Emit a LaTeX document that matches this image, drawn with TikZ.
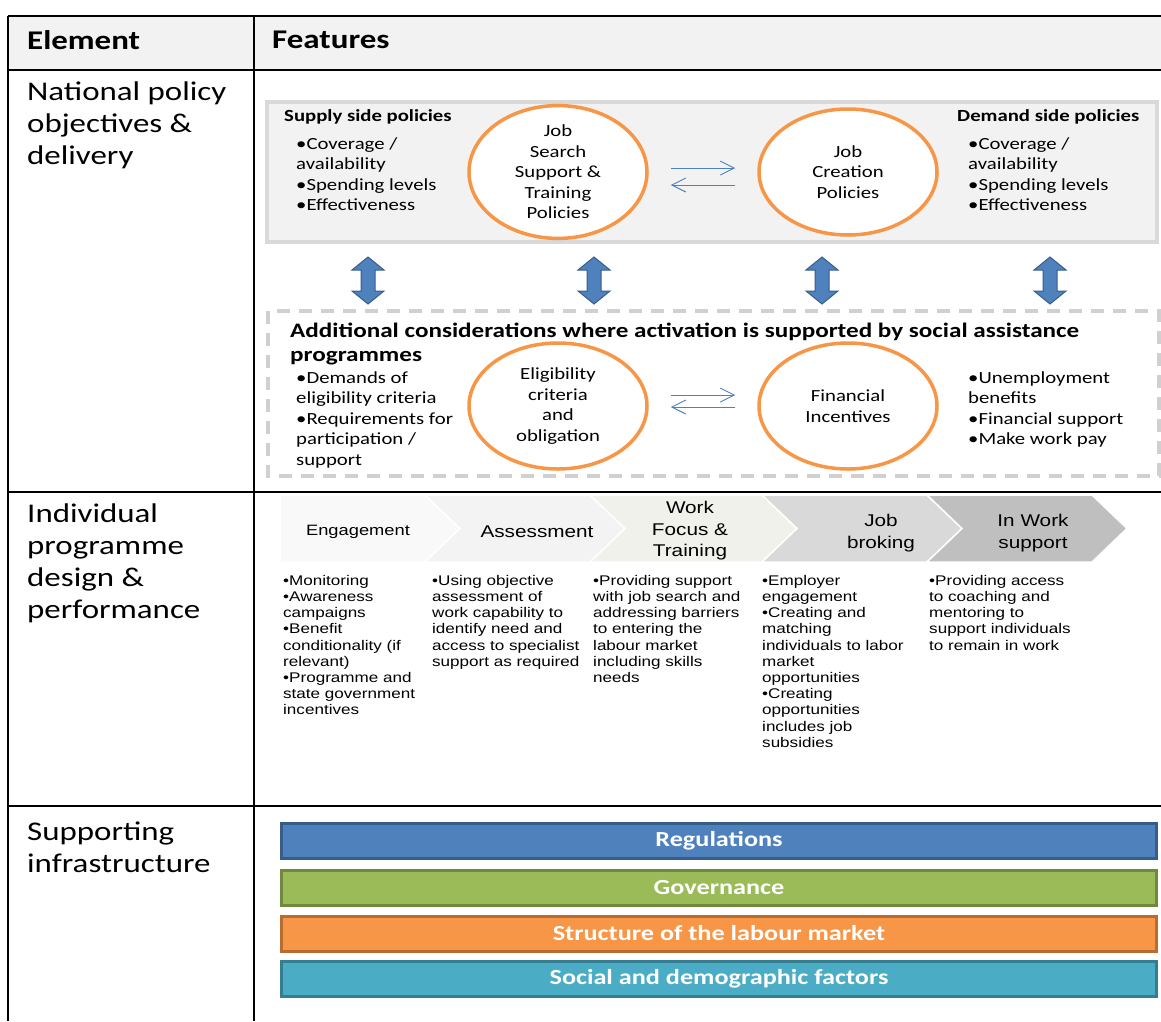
\documentclass[tikz,border=0pt]{standalone}
\usepackage{fontspec}
\setmainfont{Carlito}[FakeStretch=1.22]
\newfontfamily\arialf{Liberation Sans}[FakeStretch=1.22]
\usetikzlibrary{shapes.geometric, arrows.meta, positioning}

\definecolor{hdrgray}{HTML}{F2F2F2}
\definecolor{panelfill}{HTML}{F2F2F2}
\definecolor{panelline}{HTML}{D9D9D9}
\definecolor{dashline}{HTML}{D0D0D0}
\definecolor{ringorange}{HTML}{F79646}
\definecolor{swapblue}{HTML}{4F81BD}
\definecolor{blockdark}{HTML}{385D8A}
\definecolor{chevA}{HTML}{F9F9F9}
\definecolor{chevB}{HTML}{F3F3F3}
\definecolor{chevC}{HTML}{F1F1EB}
\definecolor{chevD}{HTML}{D9D9D9}
\definecolor{chevE}{HTML}{BFBFBF}
\definecolor{regblue}{HTML}{4F81BD}
\definecolor{regblueD}{HTML}{385D8A}
\definecolor{govgreen}{HTML}{9BBB59}
\definecolor{govgreenD}{HTML}{71893F}
\definecolor{strorange}{HTML}{F79646}
\definecolor{strorangeD}{HTML}{B66D31}
\definecolor{socteal}{HTML}{4BACC6}
\definecolor{soctealD}{HTML}{357D91}

\begin{document}
\begin{tikzpicture}[
    x=1pt, y=-1pt,
    tblline/.style={line width=1.2pt, black},
    hdr/.style={anchor=west, inner sep=0pt, font=\fontsize{27}{32}\selectfont\bfseries},
    eltext/.style={anchor=north west, inner sep=0pt, align=left, font=\fontsize{27}{32}\selectfont},
    plist/.style={anchor=north west, inner sep=0pt, align=left, font=\fontsize{17}{20.5}\selectfont},
    ring/.style={ellipse, draw=ringorange, line width=3.5pt, fill=white, minimum width=178pt, minimum height=126pt, inner sep=0pt, align=center, font=\fontsize{17}{20.5}\selectfont},
    swap/.style={-{Straight Barb[length=14pt, width=14pt]}, swapblue, line width=0.9pt},
    blockarrow/.style={draw=blockdark, fill=swapblue, line width=1pt, line join=miter},
    chev/.style={draw=white, line width=1.5pt},
    chevtext/.style={align=center, inner sep=0pt, font=\arialf\fontsize{17}{21.5}\selectfont},
    steplist/.style={anchor=north west, inner sep=0pt, align=left, font=\arialf\fontsize{14}{16.2}\selectfont},
    bar/.style={minimum width=875pt, minimum height=35pt, line width=3pt, inner sep=0pt, text=white, font=\fontsize{21.5}{22}\selectfont\bfseries}
]
    \useasboundingbox (0,0) rectangle (1161,1021);

    % table grid
    \fill[hdrgray] (8,16) rectangle (1161,70);
    \draw[tblline] (8,16) -- (1161,16);
    \draw[tblline] (8,70) -- (1161,70);
    \draw[tblline] (8,492) -- (1161,492);
    \draw[tblline] (8,806) -- (1161,806);
    \draw[tblline] (8,16) -- (8,1021);
    \draw[tblline] (254,16) -- (254,1021);

    \node[hdr] (elhead) at (27,40) {Element};
    \node[hdr] (fthead) at (272,40) {Features};

    % row 1
    \node[eltext] (natl) at (27,82) {National policy\\objectives \&\\delivery};

    \draw[panelline, fill=panelfill, line width=4pt] (267,102) rectangle (1157,242);
    \node[plist, font=\fontsize{17}{20.5}\selectfont\bfseries] (suptitle) at (284,109) {Supply side policies};
    \node[plist] (suplist) at (296,137) {\textbullet Coverage /\\availability\\\textbullet Spending levels\\\textbullet Effectiveness};
    \node[plist, font=\fontsize{17}{20.5}\selectfont\bfseries] (demtitle) at (957,109) {Demand side policies};
    \node[plist] (demlist) at (968,137) {\textbullet Coverage /\\availability\\\textbullet Spending levels\\\textbullet Effectiveness};

    \node[ring] (jss) at (558,172) {Job\\Search\\Support \&\\Training\\Policies};
    \node[ring] (jcp) at (848,172) {Job\\Creation\\Policies};
    \draw[swap] ([xshift=22pt, yshift=4pt]jss.east) -- ([xshift=-22pt, yshift=4pt]jcp.west);
    \draw[swap] ([xshift=-22pt, yshift=-13pt]jcp.west) -- ([xshift=22pt, yshift=-13pt]jss.east);

    % links between the two panels
    \foreach \ax in {368,594,822,1050}
        \draw[blockarrow] (\ax,257) -- ++(16,13) -- ++(-9,0) -- ++(0,21) -- ++(9,0)
            -- (\ax,304) -- ++(-16,-13) -- ++(9,0) -- ++(0,-21) -- ++(-9,0) -- cycle;

    \draw[dashline, line width=4pt, dash pattern=on 13pt off 9pt] (268,311) rectangle (1159,476);
    \node[plist, font=\fontsize{20.6}{24}\selectfont\bfseries] (addtitle) at (290,323) {Additional considerations where activation is supported by social assistance\\programmes};
    \node[plist] (elglist) at (296,371) {\textbullet Demands of\\eligibility criteria\\\textbullet Requirements for\\participation /\\support};
    \node[plist] (finlist) at (968,371) {\textbullet Unemployment\\benefits\\\textbullet Financial support\\\textbullet Make work pay};

    \node[ring] (elig) at (558,406) {Eligibility\\criteria\\and\\obligation};
    \node[ring] (fin) at (848,406) {Financial\\Incentives};
    \draw[swap] ([xshift=22pt, yshift=11pt]elig.east) -- ([xshift=-22pt, yshift=11pt]fin.west);
    \draw[swap] ([xshift=-22pt, yshift=-1pt]fin.west) -- ([xshift=22pt, yshift=-1pt]elig.east);

    % row 2
    \node[eltext] (indiv) at (27,504) {Individual\\programme\\design \&\\performance};

    \filldraw[chev, fill=chevA] (280,495) -- (425,495) -- (460,528.5) -- (425,562) -- (280,562) -- cycle;
    \foreach \cx/\cw/\cc in {425/165/chevB, 590/172/chevC, 762/165/chevD, 927/165/chevE}
        \filldraw[chev, fill=\cc] (\cx,495) -- ++(\cw,0) -- ++(35,33.5) -- ++(-35,33.5)
            -- ++(-\cw,0) -- ++(35,-33.5) -- cycle;

    \node[chevtext, font=\arialf\fontsize{15}{18}\selectfont] (engage) at (358,532) {Engagement};
    \node[chevtext] (assess) at (537,532) {Assessment};
    \node[chevtext] (wfocus) at (690,531) {Work\\Focus \&\\Training};
    \node[chevtext] (jbrok) at (881,533) {Job\\broking};
    \node[chevtext] (inwork) at (1033,533) {In Work\\support};

    \node[steplist] (engagelist) at (283,575) {\textbullet Monitoring\\\textbullet Awareness\\campaigns\\\textbullet Benefit\\conditionality (if\\relevant)\\\textbullet Programme and\\state government\\incentives};
    \node[steplist] (assesslist) at (432,575) {\textbullet Using objective\\assessment of\\work capability to\\identify need and\\access to specialist\\support as required};
    \node[steplist] (wfocuslist) at (593,575) {\textbullet Providing support\\with job search and\\addressing barriers\\to entering the\\labour market\\including skills\\needs};
    \node[steplist] (jbroklist) at (762,575) {\textbullet Employer\\engagement\\\textbullet Creating and\\matching\\individuals to labor\\market\\opportunities\\\textbullet Creating\\opportunities\\includes job\\subsidies};
    \node[steplist] (inworklist) at (929,575) {\textbullet Providing access\\to coaching and\\mentoring to\\support individuals\\to remain in work};

    % row 3
    \node[eltext] (suppinf) at (27,822) {Supporting\\infrastructure};

    \node[bar, fill=regblue, draw=regblueD] (regs) at (719,841) {Regulations};
    \node[bar, fill=govgreen, draw=govgreenD] (gov) at (719,887.5) {Governance};
    \node[bar, fill=strorange, draw=strorangeD] (lmstruct) at (719,933.5) {Structure of the labour market};
    \node[bar, fill=socteal, draw=soctealD] (socdem) at (719,979) {Social and demographic factors};
\end{tikzpicture}
\end{document}
